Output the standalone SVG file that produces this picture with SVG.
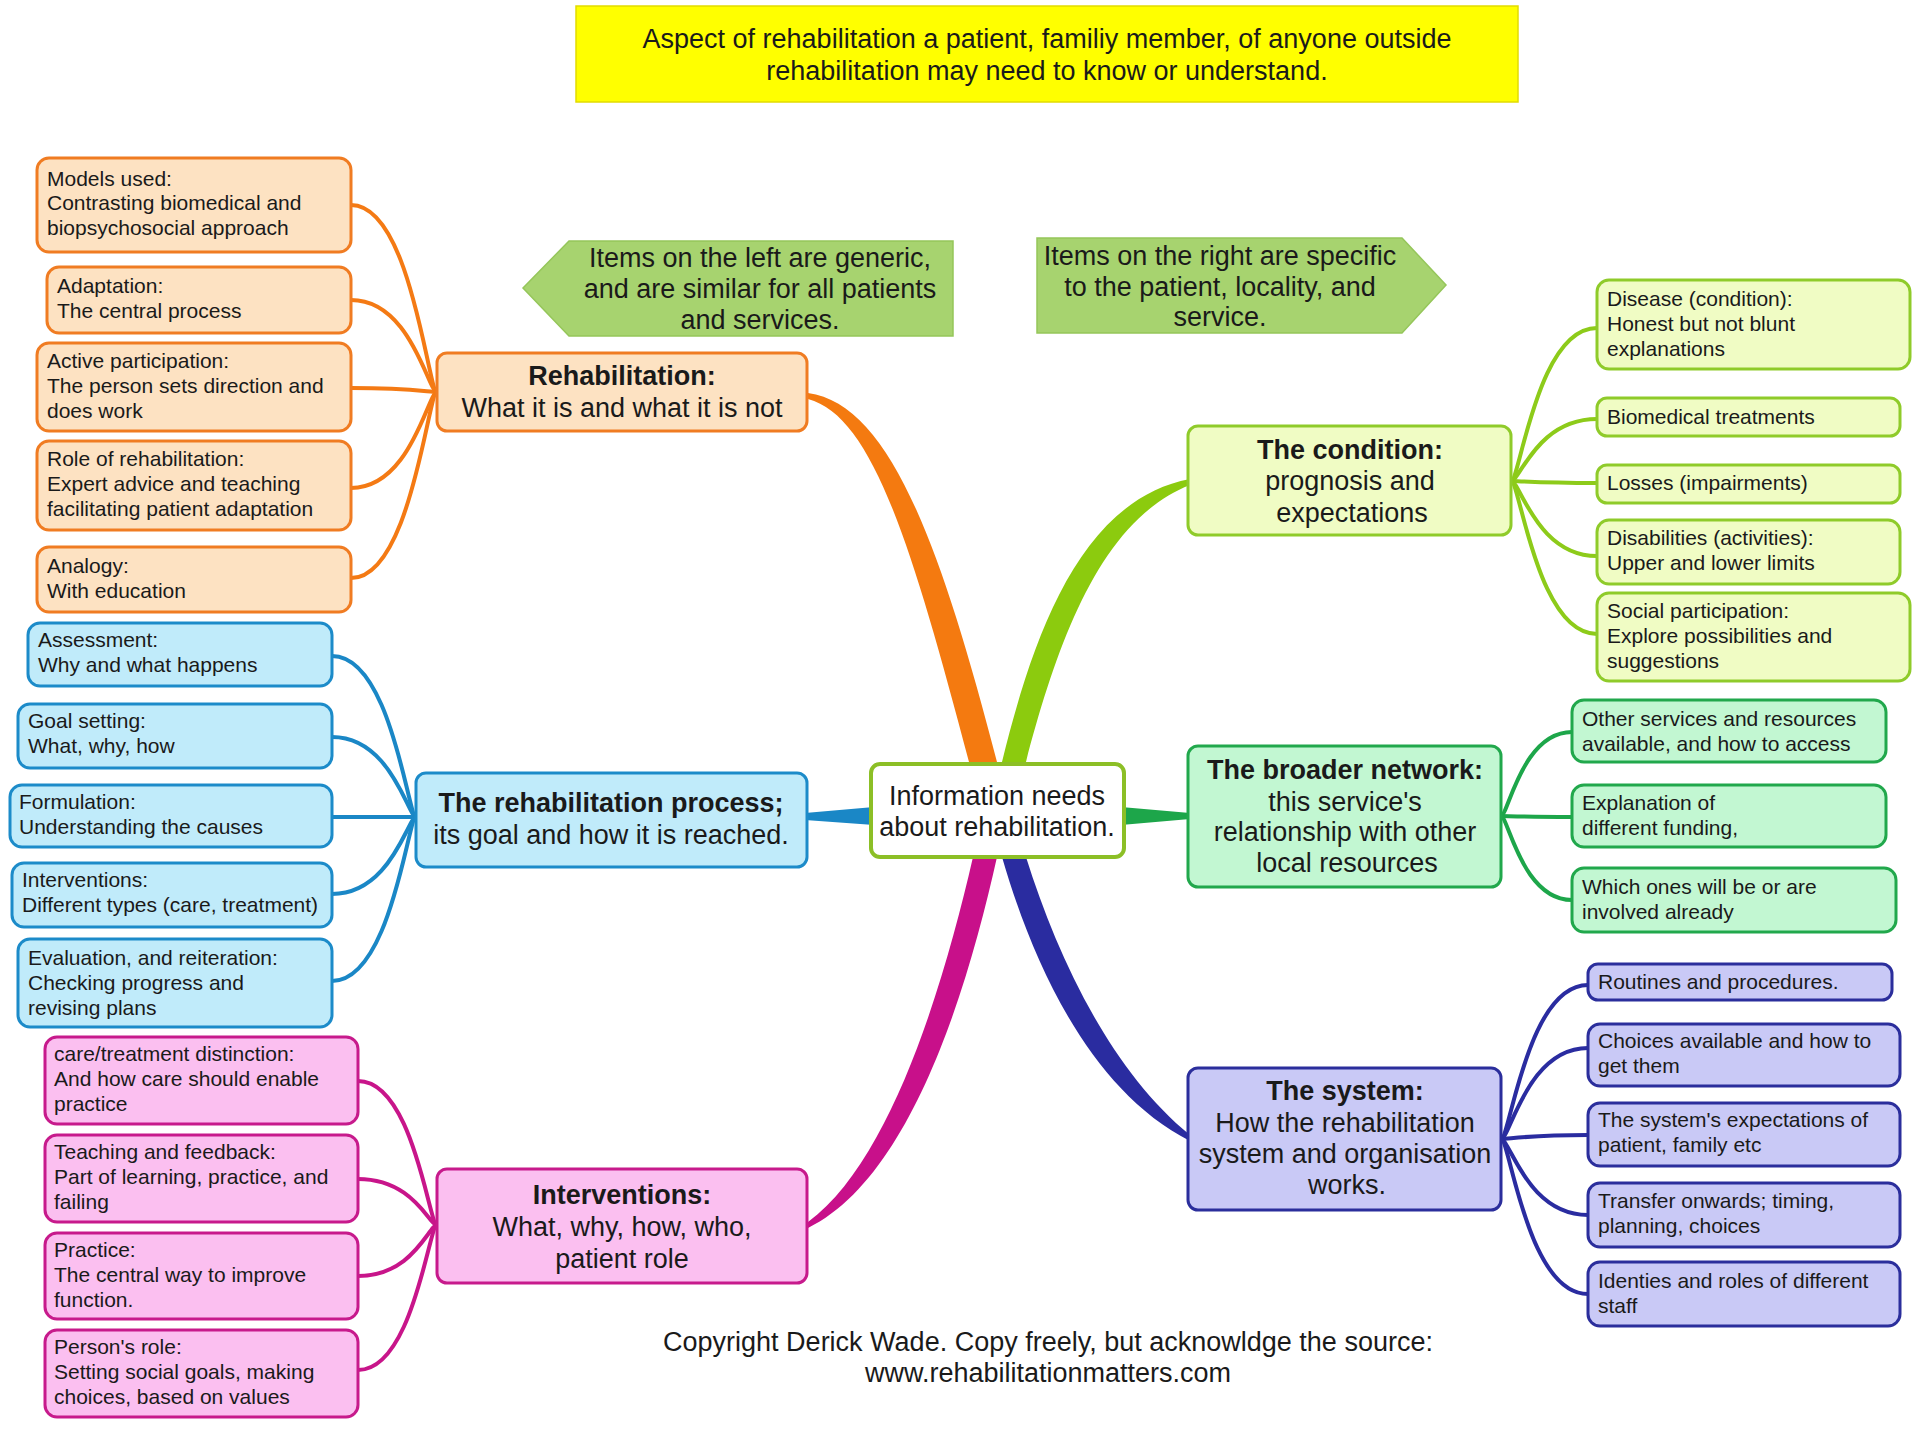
<svg xmlns="http://www.w3.org/2000/svg" width="1920" height="1443" viewBox="0 0 1920 1443">
<style>
text{font-family:"Liberation Sans",Arial,Helvetica,sans-serif;fill:#1a1a1a}
.c{font-size:21px}
.m{font-size:27px;text-anchor:middle}
.h{font-size:27px;text-anchor:middle}
.b{font-weight:bold}
.or{fill:#fde2c2;stroke:#f07c22;stroke-width:3}
.bl{fill:#c0ebfa;stroke:#1c8bc9;stroke-width:3}
.mg{fill:#fbbff0;stroke:#c71a8c;stroke-width:3}
.lg{fill:#f0fcc4;stroke:#8fcb2a;stroke-width:3}
.dg{fill:#c2f7d2;stroke:#21a84c;stroke-width:3}
.nv{fill:#c9c9f6;stroke:#2b2e9c;stroke-width:3}
.e{fill:none;stroke-width:4;stroke-linecap:round}
.eo{stroke:#f47a14}.eb{stroke:#1a87c6}.em{stroke:#c8158a}.eg{stroke:#8dcb1a}.ed{stroke:#1da64a}.en{stroke:#2a2ca0}
.arrow{fill:#a7d36f;stroke:#95c65a;stroke-width:1.5}
</style>
<rect width="1920" height="1443" fill="#ffffff"/>

<g id="title">
<rect x="576" y="6" width="942" height="96" fill="#ffff00" stroke="#e2dc00" stroke-width="1.5"/>
<text class="h" x="1047" y="48">Aspect of rehabilitation a patient, familiy member, of anyone outside</text>
<text class="h" x="1047" y="80">rehabilitation may need to know or understand.</text>
</g>

<g id="note-left">
<polygon class="arrow" points="523,288 569,241 953,241 953,336 569,336"/>
<text class="h" x="760" y="267">Items on the left are generic,</text>
<text class="h" x="760" y="298">and are similar for all patients</text>
<text class="h" x="760" y="329">and services.</text>
</g>

<g id="note-right">
<polygon class="arrow" points="1037,238 1402,238 1446,285 1402,333 1037,333"/>
<text class="h" x="1220" y="265">Items on the right are specific</text>
<text class="h" x="1220" y="296">to the patient, locality, and</text>
<text class="h" x="1220" y="326">service.</text>
</g>

<g id="connectors">
<!-- main branches -->
<path fill="#f47a10" d="M969 762 C911 542 872 416 808 399 L808 393 C888 404 939 538 997 762 Z"/>
<path fill="#8ccb0e" d="M1002 762 C1033 636 1080 500 1190 479 L1190 485 C1100 520 1057 644 1026 762 Z"/>
<path fill="#c8108a" d="M973 857 C943 988 890 1162 808 1222 L808 1228 C910 1178 967 992 997 857 Z"/>
<path fill="#2a2ca0" d="M1002 857 C1033 964 1090 1090 1190 1141 L1190 1135 C1110 1070 1057 956 1026 857 Z"/>
<path fill="#1a87c6" d="M874 807 L874 825 L805 820 L805 813 Z"/>
<path fill="#1da64a" d="M1121 807 L1121 825 L1190 819 L1190 813 Z"/>
<!-- orange children -->
<path class="e eo" d="M351 205 C411 205 428 392 437 392"/>
<path class="e eo" d="M351 300 C411 300 428 392 437 392"/>
<path class="e eo" d="M351 388 C411 388 428 392 437 392"/>
<path class="e eo" d="M351 488 C411 488 428 392 437 392"/>
<path class="e eo" d="M351 578 C411 578 428 392 437 392"/>
<!-- blue children -->
<path class="e eb" d="M332 656 C391 656 408 817 416 817"/>
<path class="e eb" d="M332 737 C391 737 408 817 416 817"/>
<path class="e eb" d="M332 817 C391 817 408 817 416 817"/>
<path class="e eb" d="M332 894 C391 894 408 817 416 817"/>
<path class="e eb" d="M332 981 C391 981 408 817 416 817"/>
<!-- magenta children -->
<path class="e em" d="M358 1081 C413 1081 429 1225 437 1225"/>
<path class="e em" d="M358 1179 C413 1179 429 1225 437 1225"/>
<path class="e em" d="M358 1276 C413 1276 429 1225 437 1225"/>
<path class="e em" d="M358 1370 C413 1370 429 1225 437 1225"/>
<!-- light green children -->
<path class="e eg" d="M1597 328 C1537 328 1520 481 1511 481"/>
<path class="e eg" d="M1597 419 C1537 419 1520 481 1511 481"/>
<path class="e eg" d="M1597 483 C1537 483 1520 481 1511 481"/>
<path class="e eg" d="M1597 556 C1537 556 1520 481 1511 481"/>
<path class="e eg" d="M1597 634 C1537 634 1520 481 1511 481"/>
<!-- dark green children -->
<path class="e ed" d="M1572 732 C1522 732 1508 816 1501 816"/>
<path class="e ed" d="M1572 817 C1522 817 1508 816 1501 816"/>
<path class="e ed" d="M1572 900 C1522 900 1508 816 1501 816"/>
<!-- navy children -->
<path class="e en" d="M1588 985 C1527 985 1510 1139 1501 1139"/>
<path class="e en" d="M1588 1048 C1527 1048 1510 1139 1501 1139"/>
<path class="e en" d="M1588 1135 C1527 1135 1510 1139 1501 1139"/>
<path class="e en" d="M1588 1215 C1527 1215 1510 1139 1501 1139"/>
<path class="e en" d="M1588 1294 C1527 1294 1510 1139 1501 1139"/>
</g>

<g id="center">
<rect x="871" y="764" width="253" height="93" rx="9" fill="#ffffff" stroke="#8cbf26" stroke-width="4"/>
<text class="h" x="997" y="805">Information needs</text>
<text class="h" x="997" y="836">about rehabilitation.</text>
</g>

<g id="rehab">
<rect class="or" x="437" y="353" width="370" height="78" rx="10"/>
<text class="m b" x="622" y="385">Rehabilitation:</text>
<text class="m" x="622" y="417">What it is and what it is not</text>
</g>
<g id="o1"><rect class="or" x="37" y="158" width="314" height="94" rx="12"/>
<text class="c" x="47" y="186">Models used:</text><text class="c" x="47" y="210">Contrasting biomedical and</text><text class="c" x="47" y="235">biopsychosocial approach</text></g>
<g id="o2"><rect class="or" x="47" y="267" width="304" height="66" rx="12"/>
<text class="c" x="57" y="293">Adaptation:</text><text class="c" x="57" y="318">The central process</text></g>
<g id="o3"><rect class="or" x="37" y="343" width="314" height="88" rx="12"/>
<text class="c" x="47" y="368">Active participation:</text><text class="c" x="47" y="393">The person sets direction and</text><text class="c" x="47" y="418">does work</text></g>
<g id="o4"><rect class="or" x="37" y="441" width="314" height="89" rx="12"/>
<text class="c" x="47" y="466">Role of rehabilitation:</text><text class="c" x="47" y="491">Expert advice and teaching</text><text class="c" x="47" y="516">facilitating patient adaptation</text></g>
<g id="o5"><rect class="or" x="37" y="547" width="314" height="65" rx="12"/>
<text class="c" x="47" y="573">Analogy:</text><text class="c" x="47" y="598">With education</text></g>

<g id="process">
<rect class="bl" x="416" y="773" width="391" height="94" rx="10"/>
<text class="m b" x="611" y="812">The rehabilitation process;</text>
<text class="m" x="611" y="844">its goal and how it is reached.</text>
</g>
<g id="b1"><rect class="bl" x="28" y="623" width="304" height="63" rx="12"/>
<text class="c" x="38" y="647">Assessment:</text><text class="c" x="38" y="672">Why and what happens</text></g>
<g id="b2"><rect class="bl" x="18" y="704" width="314" height="64" rx="12"/>
<text class="c" x="28" y="728">Goal setting:</text><text class="c" x="28" y="753">What, why, how</text></g>
<g id="b3"><rect class="bl" x="10" y="785" width="322" height="62" rx="12"/>
<text class="c" x="19" y="809">Formulation:</text><text class="c" x="19" y="834">Understanding the causes</text></g>
<g id="b4"><rect class="bl" x="12" y="863" width="320" height="64" rx="12"/>
<text class="c" x="22" y="887">Interventions:</text><text class="c" x="22" y="912">Different types (care, treatment)</text></g>
<g id="b5"><rect class="bl" x="18" y="939" width="314" height="88" rx="12"/>
<text class="c" x="28" y="965">Evaluation, and reiteration:</text><text class="c" x="28" y="990">Checking progress and</text><text class="c" x="28" y="1015">revising plans</text></g>

<g id="interventions">
<rect class="mg" x="437" y="1169" width="370" height="114" rx="10"/>
<text class="m b" x="622" y="1204">Interventions:</text>
<text class="m" x="622" y="1236">What, why, how, who,</text>
<text class="m" x="622" y="1268">patient role</text>
</g>
<g id="m1"><rect class="mg" x="45" y="1037" width="313" height="87" rx="12"/>
<text class="c" x="54" y="1061">care/treatment distinction:</text><text class="c" x="54" y="1086">And how care should enable</text><text class="c" x="54" y="1111">practice</text></g>
<g id="m2"><rect class="mg" x="45" y="1135" width="313" height="87" rx="12"/>
<text class="c" x="54" y="1159">Teaching and feedback:</text><text class="c" x="54" y="1184">Part of learning, practice, and</text><text class="c" x="54" y="1209">failing</text></g>
<g id="m3"><rect class="mg" x="45" y="1233" width="313" height="86" rx="12"/>
<text class="c" x="54" y="1257">Practice:</text><text class="c" x="54" y="1282">The central way to improve</text><text class="c" x="54" y="1307">function.</text></g>
<g id="m4"><rect class="mg" x="45" y="1330" width="313" height="87" rx="12"/>
<text class="c" x="54" y="1354">Person's role:</text><text class="c" x="54" y="1379">Setting social goals, making</text><text class="c" x="54" y="1404">choices, based on values</text></g>

<g id="condition">
<rect class="lg" x="1188" y="426" width="323" height="109" rx="10"/>
<text class="m b" x="1350" y="459">The condition:</text>
<text class="m" x="1350" y="490">prognosis and</text>
<text class="m" x="1352" y="522">expectations</text>
</g>
<g id="g1"><rect class="lg" x="1597" y="280" width="313" height="89" rx="12"/>
<text class="c" x="1607" y="306">Disease (condition):</text><text class="c" x="1607" y="331">Honest but not blunt</text><text class="c" x="1607" y="356">explanations</text></g>
<g id="g2"><rect class="lg" x="1597" y="398" width="303" height="38" rx="10"/>
<text class="c" x="1607" y="424">Biomedical treatments</text></g>
<g id="g3"><rect class="lg" x="1597" y="465" width="303" height="38" rx="10"/>
<text class="c" x="1607" y="490">Losses (impairments)</text></g>
<g id="g4"><rect class="lg" x="1597" y="520" width="303" height="64" rx="12"/>
<text class="c" x="1607" y="545">Disabilities (activities):</text><text class="c" x="1607" y="570">Upper and lower limits</text></g>
<g id="g5"><rect class="lg" x="1597" y="593" width="313" height="88" rx="12"/>
<text class="c" x="1607" y="618">Social participation:</text><text class="c" x="1607" y="643">Explore possibilities and</text><text class="c" x="1607" y="668">suggestions</text></g>

<g id="network">
<rect class="dg" x="1188" y="746" width="313" height="141" rx="10"/>
<text class="m b" x="1345" y="779">The broader network:</text>
<text class="m" x="1345" y="811">this service's</text>
<text class="m" x="1345" y="841">relationship with other</text>
<text class="m" x="1347" y="872">local resources</text>
</g>
<g id="d1"><rect class="dg" x="1572" y="700" width="314" height="62" rx="12"/>
<text class="c" x="1582" y="726">Other services and resources</text><text class="c" x="1582" y="751">available, and how to access</text></g>
<g id="d2"><rect class="dg" x="1572" y="785" width="314" height="62" rx="12"/>
<text class="c" x="1582" y="810">Explanation of</text><text class="c" x="1582" y="835">different funding,</text></g>
<g id="d3"><rect class="dg" x="1572" y="868" width="324" height="64" rx="12"/>
<text class="c" x="1582" y="894">Which ones will be or are</text><text class="c" x="1582" y="919">involved already</text></g>

<g id="system">
<rect class="nv" x="1188" y="1068" width="313" height="142" rx="10"/>
<text class="m b" x="1345" y="1100">The system:</text>
<text class="m" x="1345" y="1132">How the rehabilitation</text>
<text class="m" x="1345" y="1163">system and organisation</text>
<text class="m" x="1347" y="1194">works.</text>
</g>
<g id="n1"><rect class="nv" x="1588" y="964" width="304" height="36" rx="10"/>
<text class="c" x="1598" y="989">Routines and procedures.</text></g>
<g id="n2"><rect class="nv" x="1588" y="1024" width="312" height="62" rx="12"/>
<text class="c" x="1598" y="1048">Choices available and how to</text><text class="c" x="1598" y="1073">get them</text></g>
<g id="n3"><rect class="nv" x="1588" y="1103" width="312" height="63" rx="12"/>
<text class="c" x="1598" y="1127">The system's expectations of</text><text class="c" x="1598" y="1152">patient, family etc</text></g>
<g id="n4"><rect class="nv" x="1588" y="1183" width="312" height="64" rx="12"/>
<text class="c" x="1598" y="1208">Transfer onwards; timing,</text><text class="c" x="1598" y="1233">planning, choices</text></g>
<g id="n5"><rect class="nv" x="1588" y="1262" width="312" height="64" rx="12"/>
<text class="c" x="1598" y="1288">Identies and roles of different</text><text class="c" x="1598" y="1313">staff</text></g>

<g id="copyright">
<text class="h" x="1048" y="1351">Copyright Derick Wade. Copy freely, but acknowldge the source:</text>
<text class="h" x="1048" y="1382">www.rehabilitationmatters.com</text>
</g>
</svg>
